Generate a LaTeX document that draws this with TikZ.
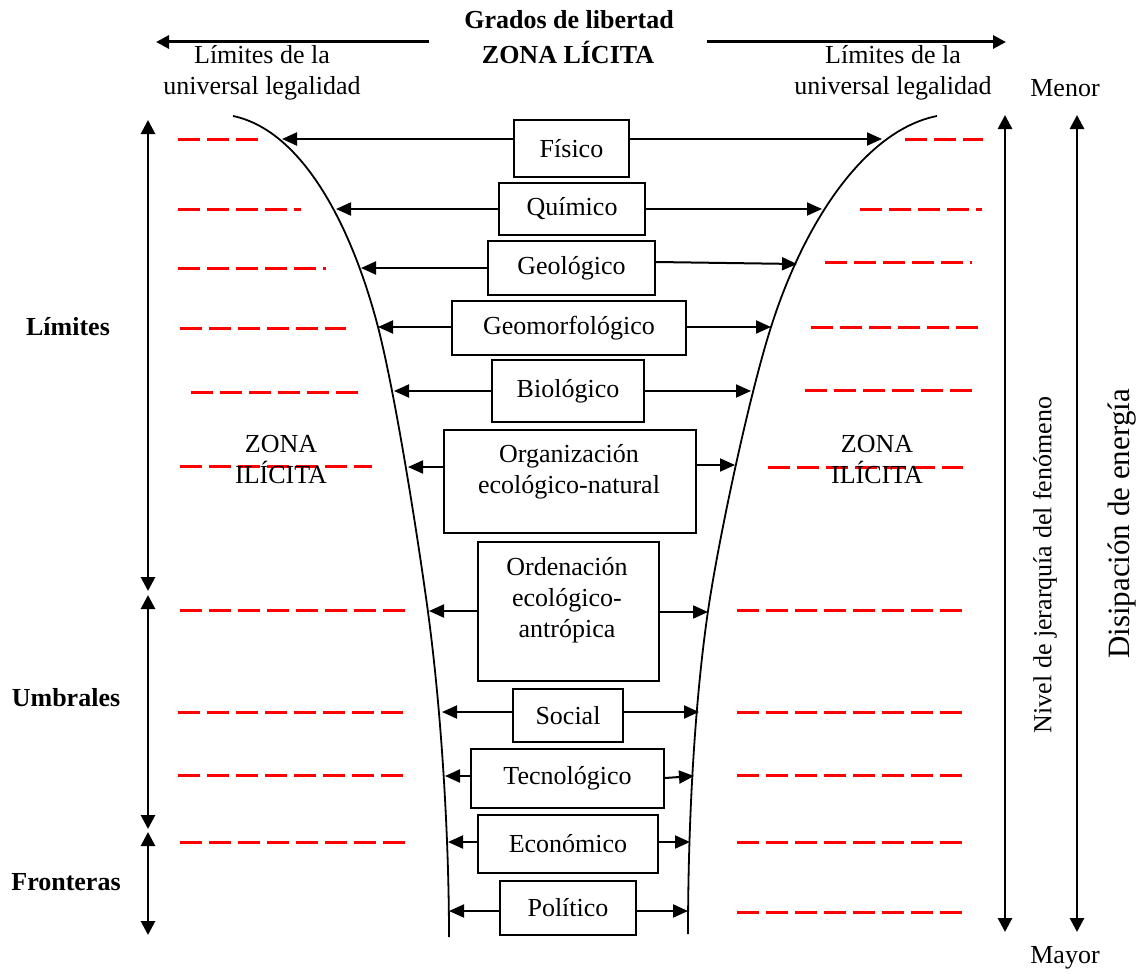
\documentclass[tikz,border=0pt]{standalone}
\usepackage{fontspec}
\setmainfont{Liberation Serif}
\usetikzlibrary{arrows.meta}
\newcommand\txtsize{\fontsize{26}{31}\selectfont}
\begin{document}
\begin{tikzpicture}[x=1pt,y=-1pt,
  every node/.style={font=\txtsize},
  box/.style={draw, line width=2pt, inner sep=0pt, anchor=north west, align=center},
  lbl/.style={align=center, inner sep=0pt},
  bold/.style={font=\txtsize\bfseries, inner sep=0pt},
  arr/.style={line width=2pt, -{Triangle[length=15pt,width=13pt]}},
  toparr/.style={line width=3pt, -{Triangle[length=13pt,width=13pt]}},
  varr/.style={line width=2.8pt, {Triangle[length=14pt,width=14pt]}-{Triangle[length=14pt,width=14pt]}},
  redline/.style={red, line width=3pt, dash pattern=on 21.5pt off 7.5pt},
  wall/.style={line width=1.8pt}
]
\useasboundingbox (0,0) rectangle (1138,974);

% ---- red dashed level lines ----
\foreach \a/\b/\y in {178/258/139, 178/301/209, 178/326/268, 180/346/328, 191/358/392,
                      180/372/466, 180/405/610, 178/405/712, 178/405/775, 180/405/842}
  \draw[redline] (\a,\y) -- (\b,\y);
\foreach \a/\b/\y in {905/983/139, 860/982/209, 825/972/262, 811/978/327, 805/972/390,
                      768/963/467, 737/965/610, 737/963/712, 737/963/775, 737/963/842, 737/963/912}
  \draw[redline] (\a,\y) -- (\b,\y);

% ---- funnel walls ----
\draw[wall] (233,116) .. controls (300,130) and (350,220) .. (378,327)
                      .. controls (396,397) and (418.5,542) .. (428,612)
                      .. controls (441.5,712) and (449,837) .. (449,937);
\draw[wall] (937,116) .. controls (866,130) and (805,220) .. (771,327)
                      .. controls (748.7,397) and (718.2,541) .. (708,611)
                      .. controls (693.4,711) and (688,834) .. (688,934);

% points where the arrows meet the walls
\coordinate (L1) at (282,139);  \coordinate (R1) at (882,139);
\coordinate (L2) at (336,209);  \coordinate (R2) at (822,209);
\coordinate (L3) at (361,268);  \coordinate (R3) at (797,264);
\coordinate (L4) at (378,327);  \coordinate (R4) at (771,327);
\coordinate (L5) at (394,391);  \coordinate (R5) at (751,391);
\coordinate (L6) at (408,467);  \coordinate (R6) at (735,465);
\coordinate (L7) at (429,611);  \coordinate (R7) at (708,612);
\coordinate (L8) at (442,712);  \coordinate (R8) at (699,712);
\coordinate (L9) at (445,776);  \coordinate (R9) at (694,776);
\coordinate (L10) at (448,842); \coordinate (R10) at (690,842);
\coordinate (L11) at (449,911); \coordinate (R11) at (688,911);

% ---- boxes ----
\node[box, minimum width=115, minimum height=57] (fis) at (513,119) {Físico};
\node[box, minimum width=146, minimum height=52] (qui) at (498,182) {Químico};
\node[box, minimum width=167, minimum height=54] (geo) at (487,240) {Geológico};
\node[box, minimum width=234, minimum height=54] (gmf) at (451,300) {Geomorfológico};
\node[box, minimum width=152, minimum height=62] (bio) at (491,359) {Biológico};
\node[box, minimum width=252, minimum height=103] (org) at (443,429) {};
\node[lbl] (orgt) at (569,472) {Organización\\ecológico-natural};
\node[box, minimum width=181, minimum height=139] (ord) at (477,541) {};
\node[lbl] (ordt) at (567,600) {Ordenación\\ecológico-\\antrópica};
\node[box, minimum width=110, minimum height=53] (soc) at (512,688) {Social};
\node[box, minimum width=193, minimum height=59] (tec) at (470,748) {Tecnológico};
\node[box, minimum width=180, minimum height=58] (eco) at (477,814) {Económico};
\node[box, minimum width=136, minimum height=54] (pol) at (499,880) {Político};

% ---- arrows from boxes to walls ----
\draw[arr] (fis.west |- L1) -- (L1);   \draw[arr] (fis.east |- R1) -- (R1);
\draw[arr] (qui.west |- L2) -- (L2);   \draw[arr] (qui.east |- R2) -- (R2);
\draw[arr] (geo.west |- L3) -- (L3);   \draw[arr] (geo.east |- 0,262) -- (R3);
\draw[arr] (gmf.west |- L4) -- (L4);   \draw[arr] (gmf.east |- R4) -- (R4);
\draw[arr] (bio.west |- L5) -- (L5);   \draw[arr] (bio.east |- R5) -- (R5);
\draw[arr] (org.west |- L6) -- (L6);   \draw[arr] (org.east |- R6) -- (R6);
\draw[arr] (ord.west |- L7) -- (L7);   \draw[arr] (ord.east |- R7) -- (R7);
\draw[arr] (soc.west |- L8) -- (L8);   \draw[arr] (soc.east |- R8) -- (R8);
\draw[arr] (tec.west |- L9) -- (L9);   \draw[arr] (tec.east |- 0,778) -- (R9);
\draw[arr] (eco.west |- L10) -- (L10); \draw[arr] (eco.east |- R10) -- (R10);
\draw[arr] (pol.west |- L11) -- (L11); \draw[arr] (pol.east |- R11) -- (R11);

% ---- heading ----
\node[bold] (grados) at (569,20) {Grados de libertad};
\node[bold] (licita) at (568,52) {ZONA LÍCITA};
\coordinate (tl) at (156,42); \coordinate (tr) at (1006,42);
\draw[toparr] (429,42) -- (tl);
\draw[toparr] (707,42) -- (tr);
\node[lbl] (limL) at (262,73) {Límites de la\\universal legalidad};
\node[lbl] (limR) at (893,73) {Límites de la\\universal legalidad};

% ---- illicit zones ----
\node[lbl] (ilL) at (281,460) {ZONA\\ILÍCITA};
\node[lbl] (ilR) at (877,460) {ZONA\\ILÍCITA};

% ---- left scale ----
\coordinate (a0) at (148,120); \coordinate (a1) at (148,591);
\coordinate (b0) at (148,595); \coordinate (b1) at (148,829);
\coordinate (c0) at (148,832); \coordinate (c1) at (148,935);
\draw[varr] (a0) -- (a1);
\draw[varr] (b0) -- (b1);
\draw[varr] (c0) -- (c1);
\node[bold] (lim) at (68,327) {Límites};
\node[bold] (umb) at (66,698) {Umbrales};
\node[bold] (fro) at (66,882) {Fronteras};

% ---- right scales ----
\node[lbl] (menor) at (1065,88) {Menor};
\node[lbl] (mayor) at (1065,958) {Mayor};
\coordinate (n0) at (1005,115); \coordinate (n1) at (1005,932);
\coordinate (d0) at (1077,115); \coordinate (d1) at (1077,932);
\draw[varr] (n0) -- (n1);
\draw[varr] (d0) -- (d1);
\node[lbl, rotate=90] (niv) at (1045,565) {Nivel de jerarquía del fenómeno};
\node[lbl, rotate=90, font=\fontsize{31}{36}\selectfont] (dis) at (1122,524) {Disipación de energía};
\end{tikzpicture}
\end{document}
